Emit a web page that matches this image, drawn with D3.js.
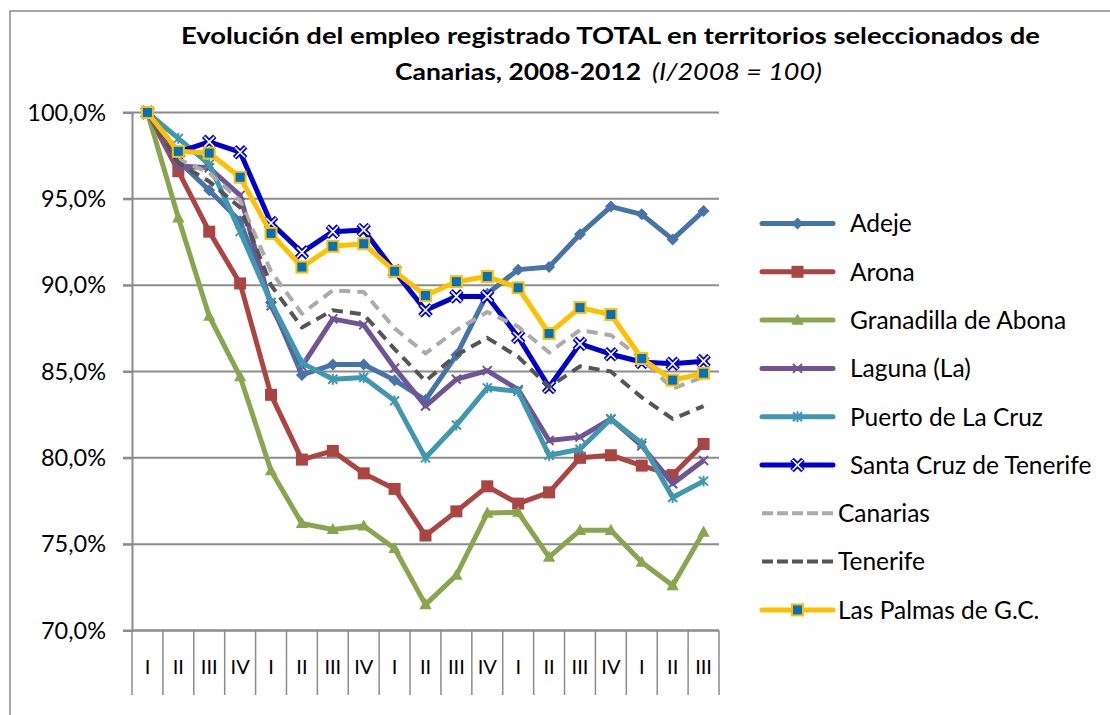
<!DOCTYPE html>
<html>
<head>
<meta charset="utf-8">
<script src="https://cdn.jsdelivr.net/npm/d3@7"></script>
<style>
  body { margin: 0; background: #fff; }
  svg { display: block; font-family: Lato, "Open Sans", sans-serif; }
</style>
</head>
<body>
<div id="chart"></div>
<script>
// trimestres 2008-III/2012
var categories = ["I","II","III","IV","I","II","III","IV","I","II","III","IV","I","II","III","IV","I","II","III"];

var adeje      = [100, 97.2, 95.5, 93.7, 89.0, 84.8, 85.4, 85.4, 84.5, 83.35, 85.95, 89.5, 90.9, 91.05, 92.95, 94.55, 94.1, 92.65, 94.3];
var arona      = [100, 96.6, 93.1, 90.1, 83.65, 79.9, 80.4, 79.1, 78.2, 75.5, 76.9, 78.35, 77.35, 78.0, 80.0, 80.15, 79.55, 79.0, 80.8];
var granadilla = [100, 93.9, 88.2, 84.7, 79.25, 76.2, 75.85, 76.05, 74.75, 71.5, 73.2, 76.8, 76.85, 74.25, 75.8, 75.8, 73.95, 72.6, 75.7];
var laguna     = [100, 96.9, 96.8, 95.2, 88.8, 85.3, 88.05, 87.7, 85.2, 83.0, 84.55, 85.05, 83.95, 81.0, 81.2, 82.25, 80.7, 78.5, 79.85];
var puerto     = [100, 98.5, 97.0, 93.1, 89.0, 85.5, 84.55, 84.65, 83.3, 80.0, 81.9, 84.05, 83.85, 80.15, 80.5, 82.25, 80.85, 77.7, 78.65];
var santaCruz  = [100, 97.7, 98.3, 97.7, 93.6, 91.9, 93.1, 93.2, 90.8, 88.55, 89.35, 89.35, 87.0, 84.1, 86.6, 86.0, 85.55, 85.45, 85.6];
var canarias   = [100, 97.3, 96.5, 94.9, 90.8, 88.35, 89.7, 89.6, 87.5, 86.05, 87.4, 88.45, 87.6, 86.1, 87.4, 87.1, 85.75, 84.0, 84.7];
var tenerife   = [100, 97.1, 96.0, 94.5, 90.0, 87.55, 88.55, 88.3, 86.3, 84.45, 85.95, 86.95, 85.85, 84.1, 85.3, 85.0, 83.5, 82.25, 83.0];
var lasPalmas  = [100, 97.75, 97.65, 96.25, 93.0, 91.05, 92.25, 92.4, 90.8, 89.4, 90.2, 90.5, 89.85, 87.2, 88.7, 88.3, 85.75, 84.5, 84.9];

var yTicks = [70, 75, 80, 85, 90, 95, 100];

var series = [
  {name: "Adeje", values: adeje, color: "#4673A8", marker: "diamond"},
  {name: "Arona", values: arona, color: "#AA4542", marker: "square"},
  {name: "Granadilla de Abona", values: granadilla, color: "#89A64E", marker: "triangle"},
  {name: "Laguna (La)", values: laguna, color: "#6F5593", marker: "times"},
  {name: "Puerto de La Cruz", values: puerto, color: "#3F98AF", marker: "asterisk"},
  {name: "Santa Cruz de Tenerife", values: santaCruz, color: "#0000CC", marker: "cross"},
  {name: "Canarias", values: canarias, color: "#ABABAB", dash: true},
  {name: "Tenerife", values: tenerife, color: "#555555", dash: true},
  {name: "Las Palmas de G.C.", values: lasPalmas, color: "#FFC000", marker: "box"}
];

var W = 1110, H = 715;
var plot = {left: 132, right: 719, top: 112.5, bottom: 630.5};

var svg = d3.select("#chart").append("svg")
    .attr("width", W)
    .attr("height", H);

// marco exterior
svg.append("rect")
    .attr("x", 10).attr("y", 11)
    .attr("width", W + 20).attr("height", H + 20)
    .attr("fill", "none")
    .attr("stroke", "#8a8a8a")
    .attr("stroke-width", 1.5);

var x = d3.scaleBand().domain(d3.range(categories.length)).range([plot.left, plot.right]);
var y = d3.scaleLinear().domain([70, 100]).range([plot.bottom, plot.top]);

var es = d3.formatLocale({decimal: ",", thousands: ".", grouping: [3], currency: ["", "€"]});
var fmt = function(v) { return es.format(".1f")(v) + "%"; };

// rejilla
svg.append("g")
  .selectAll("line")
  .data(yTicks)
  .enter().append("line")
    .attr("x1", plot.left - 9).attr("x2", plot.right)
    .attr("y1", function(d) { return y(d); })
    .attr("y2", function(d) { return y(d); })
    .attr("stroke", "#8c8c8c")
    .attr("stroke-width", 2);

// eje Y
var yAxis = svg.append("g")
    .attr("transform", "translate(" + plot.left + ",0)")
    .call(d3.axisLeft(y).tickValues(yTicks).tickFormat(fmt).tickSize(9).tickPadding(17));
yAxis.select(".domain").attr("stroke", "#8c8c8c").attr("stroke-width", 2);
yAxis.selectAll(".tick line").attr("stroke", "#8c8c8c").attr("stroke-width", 2);
yAxis.selectAll("text").attr("font-size", 23.5).attr("fill", "#000").attr("font-family", "Lato");

// eje X
var xg = svg.append("g");
xg.append("line")
    .attr("x1", plot.left).attr("x2", plot.right)
    .attr("y1", plot.bottom).attr("y2", plot.bottom)
    .attr("stroke", "#8c8c8c").attr("stroke-width", 2);
xg.selectAll("line.sep")
  .data(d3.range(categories.length + 1))
  .enter().append("line")
    .attr("class", "sep")
    .attr("x1", function(i) { return plot.left + i * x.step(); })
    .attr("x2", function(i) { return plot.left + i * x.step(); })
    .attr("y1", plot.bottom).attr("y2", 695)
    .attr("stroke", "#8c8c8c").attr("stroke-width", 1.5);
xg.selectAll("text")
  .data(categories)
  .enter().append("text")
    .attr("x", function(d, i) { return x(i) + x.bandwidth() / 2; })
    .attr("y", 667)
    .attr("dy", "0.35em")
    .attr("text-anchor", "middle")
    .attr("font-size", 20)
    .text(function(d) { return d; });

// marcadores
function markerPath(type, s) {
  if (type == "diamond") return "M0," + (-s) + "L" + s + ",0L0," + s + "L" + (-s) + ",0Z";
  if (type == "triangle") return "M0," + (-s) + "L" + (s * 0.95) + "," + (s * 0.7) + "L" + (-s * 0.95) + "," + (s * 0.7) + "Z";
  if (type == "times" || type == "cross") return "M" + (-s) + "," + (-s) + "L" + s + "," + s + "M" + s + "," + (-s) + "L" + (-s) + "," + s;
  if (type == "asterisk") return "M" + (-s) + "," + (-s) + "L" + s + "," + s + "M" + s + "," + (-s) + "L" + (-s) + "," + s + "M0," + (-s * 1.2) + "L0," + (s * 1.2);
  return "";
}

function drawMarker(g, s) {
  if (s.marker == "square") {
    g.append("rect").attr("x", -6).attr("y", -6).attr("width", 12).attr("height", 12)
      .attr("fill", s.color);
  } else if (s.marker == "box") {
    g.append("rect").attr("x", -5.5).attr("y", -5.5).attr("width", 11).attr("height", 11)
      .attr("fill", "#0070C0").attr("stroke", "#FFC000").attr("stroke-width", 2);
  } else if (s.marker == "diamond") {
    g.append("path").attr("d", markerPath("diamond", 6)).attr("fill", s.color);
  } else if (s.marker == "triangle") {
    g.append("path").attr("d", markerPath("triangle", 6.5)).attr("fill", s.color);
  } else if (s.marker == "times") {
    g.append("path").attr("d", markerPath("times", 4.5)).attr("stroke", s.color).attr("stroke-width", 2).attr("fill", "none");
  } else if (s.marker == "asterisk") {
    g.append("path").attr("d", markerPath("asterisk", 4.5)).attr("stroke", s.color).attr("stroke-width", 2).attr("fill", "none");
  } else if (s.marker == "cross") {
    g.append("path").attr("d", markerPath("cross", 5.5)).attr("stroke", s.color).attr("stroke-width", 5).attr("fill", "none");
    g.append("path").attr("d", markerPath("cross", 5)).attr("stroke", "#fff").attr("stroke-width", 1.6).attr("fill", "none");
  }
}

var line = d3.line()
    .x(function(d, i) { return x(i) + x.bandwidth() / 2; })
    .y(function(d) { return y(d); });

series.forEach(function(s) {
  var g = svg.append("g");
  g.append("path")
      .attr("d", line(s.values))
      .attr("fill", "none")
      .attr("stroke", s.color)
      .attr("stroke-width", s.dash ? 4 : 5)
      .attr("stroke-linejoin", "round")
      .attr("stroke-dasharray", s.dash ? "11,7" : null);
  if (s.marker) {
    s.values.forEach(function(v, i) {
      var m = g.append("g").attr("transform", "translate(" + (x(i) + x.bandwidth() / 2) + "," + y(v) + ")");
      drawMarker(m, s);
    });
  }
});

// leyenda
var legend = svg.append("g");
series.forEach(function(s, i) {
  var ly = 223.5 + i * 48.3;
  var lg = legend.append("g");
  lg.append("line")
      .attr("x1", 762).attr("x2", 833)
      .attr("y1", ly).attr("y2", ly)
      .attr("stroke", s.color)
      .attr("stroke-width", s.dash ? 4 : 5)
      .attr("stroke-linecap", s.dash ? "butt" : "round")
      .attr("stroke-dasharray", s.dash ? "11,4" : null);
  if (s.marker) {
    drawMarker(lg.append("g").attr("transform", "translate(797.5," + ly + ")"), s);
  }
  lg.append("text")
      .attr("x", i < 6 ? 850 : 838)
      .attr("y", ly)
      .attr("dy", "0.36em")
      .attr("font-size", 24.5)
      .text(s.name);
});

// titulo
var title = svg.append("g").attr("font-size", 23);
title.append("text")
    .attr("x", 181).attr("y", 44)
    .attr("font-weight", "bold")
    .attr("textLength", 859)
    .attr("lengthAdjust", "spacingAndGlyphs")
    .text("Evolución del empleo registrado TOTAL en territorios seleccionados de");
title.append("text")
    .attr("x", 395).attr("y", 80)
    .attr("font-weight", "bold")
    .attr("textLength", 246)
    .attr("lengthAdjust", "spacingAndGlyphs")
    .text("Canarias, 2008-2012");
title.append("text")
    .attr("x", 652).attr("y", 80)
    .attr("font-style", "italic")
    .attr("textLength", 170)
    .attr("lengthAdjust", "spacingAndGlyphs")
    .text("(I/2008 = 100)");
</script>
</body>
</html>
